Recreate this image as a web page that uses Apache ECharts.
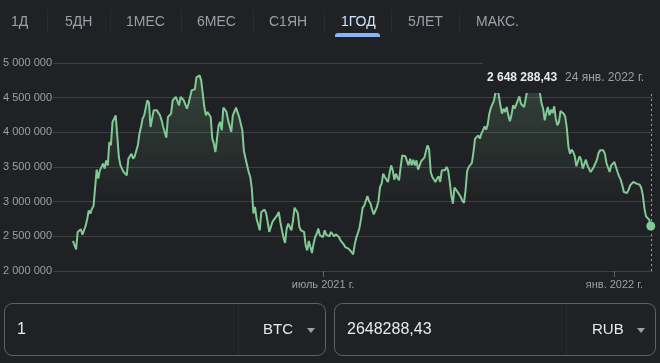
<!DOCTYPE html>
<html>
<head>
<meta charset="utf-8">
<script src="https://cdn.jsdelivr.net/npm/echarts@6/dist/echarts.min.js"></script>
<style>
  html, body { margin: 0; padding: 0; background: #202124; }
  #c { width: 660px; height: 363px; }
</style>
</head>
<body>
<div id="c"></div>
<script>
// ---------- DATA ----------
const tabLabels = ['1Д', '5ДН', '1МЕС', '6МЕС', 'С1ЯН', '1ГОД', '5ЛЕТ', 'МАКС.'];
const activeTab = '1ГОД';
const startDate = '2021-01-24';           // first daily value
const priceThousandRub = [                 // BTC/RUB daily, thousands of RUB
  2433,2433,2313,2563,2587,2601,2524,2550,2650,2750,
  2875,2827,2899,2938,2962,3462,3332,3452,3476,3548,
  3476,3596,3524,3861,3813,4149,4173,4245,3950,3644,
  3524,3476,3428,3404,3380,3620,3596,3692,3620,3654,
  3635,3813,3980,4077,4197,4245,4245,4462,4430,4077,
  4101,4317,4293,4317,4308,4245,4173,4077,4101,3923,
  4221,4221,4269,4462,4462,4510,4510,4390,4510,4486,
  4462,4486,4341,4413,4510,4606,4630,4620,4793,4810,
  4822,4750,4558,4365,4245,4293,4317,4221,3913,3837,
  3716,3692,4101,4149,
  4029,4356,4327,4293,4173,4200,4005,4245,4269,4356,
  4341,4221,4197,4029,3726,3716,3524,3428,3356,3188,
  2830,2923,2755,2779,2587,2851,2827,2885,2837,2707,
  2563,2587,2707,2740,2755,2803,2851,2707,2587,2481,
  2404,2611,2683,2707,2587,2731,2913,2894,2837,2635,
  2587,2587,2563,2370,2298,2433,2346,2260,2394,2490,
  2538,2611,2514,2538,2490,2587,2524,2538,2500,2563,
  2538,2500,2529,2538,2490,2442,2418,2385,2346,2370,
  2322,2322,2274,2240,2385,2481,2548,2625,2755,2913,
  2942,2962,3082,3010,2971,2885,2817,2817,2923,3010,
  3212,3260,3404,3356,3356,3284,3413,3524,3452,3317,
  3404,3346,3308,3500,3668,3644,3654,3654,3524,3620,
  3524,3606,3524,3596,3462,3524,3587,3615,3635,3731,
  3813,3750,3428,3356,3365,3284,3332,3365,
  3284,3452,3476,3452,3500,3452,3284,3091,2971,3202,
  3221,3139,3163,3067,3010,2981,3163,3442,3500,3510,
  3558,3716,3909,3885,3957,3909,3981,4029,4087,4038,
  4115,4269,4356,4356,4462,4582,4630,4534,4390,4269,
  4341,4293,4365,4245,4159,4245,4390,4341,4317,4462,
  4519,4413,4404,4365,4486,4606,4700,4750,4680,4780,
  4860,4800,4720,4558,4423,4341,4173,4284,4365,4245,
  4327,4279,4375,4197,4101,4149,4308,4317,4269,4221,
  4053,3788,3692,3750,3716,3654,3510,3490,3654,3606,
  3476,3462,3606,3524,3548,3428,3462,3500,3524,3606,
  3702,3740,3740,3740,3692,3558,3572,3428,3524,3500,
  3572,3500,3428,3365,3317,3236,3139,3139,3125,3173,
  3236,3260,3284,3284,3260,3284,3245,3197,3091,2899,
  2788,2779,2740,2648.28843
];
const yTickValues = [2000000, 2500000, 3000000, 3500000, 4000000, 4500000, 5000000];
const xTickDates = ['2021-07-01', '2022-01-01'];
const xTickLabels = ['июль 2021 г.', 'янв. 2022 г.'];
const monthsShort = ['янв.', 'февр.', 'мар.', 'апр.', 'мая', 'июн.', 'июл.', 'авг.', 'сент.', 'окт.', 'нояб.', 'дек.'];
const fromCurrency = 'BTC';
const toCurrency = 'RUB';
const fromAmount = '1';

// ---------- BUILD ----------
const DAY = 86400000;
const ts = s => { const p = s.split('-').map(Number); return Date.UTC(p[0], p[1] - 1, p[2]); };
const t0 = ts(startDate);
const seriesData = priceThousandRub.map((v, i) => [t0 + i * DAY, v * 1000]);
const last = seriesData[seriesData.length - 1];
const lastDate = new Date(last[0]);
const spaced = n => String(n).replace(/\B(?=(\d{3})+(?!\d))/g, ' ');
const intPart = Math.floor(last[1]);
const decPart = String(Math.round((last[1] - intPart) * 100)).padStart(2, '0');
const lastPriceLabel = spaced(intPart) + ',' + decPart;
const lastPriceInput = intPart + ',' + decPart;
const lastDateLabel = lastDate.getUTCDate() + ' ' + monthsShort[lastDate.getUTCMonth()] + ' ' + lastDate.getUTCFullYear() + ' г.';
const xTickTs = xTickDates.map(ts);

const FONT = "'Liberation Sans', Arial, sans-serif";
const BG = '#202124';
const GREEN = '#81c995';

// tabs layout
const tabX = [11, 65, 126, 197, 269, 341, 408, 476];
const tabSepX = [47, 110, 181, 253, 324, 391, 459];
const graphics = [];
tabLabels.forEach((t, i) => {
  const active = t === activeTab;
  graphics.push({ type: 'text', z: 100, style: { text: t, x: tabX[i], y: 22, font: '14px ' + FONT,
    fill: active ? '#d2e3fc' : '#9aa0a6', textVerticalAlign: 'middle', verticalAlign: 'middle' } });
});
tabSepX.forEach(x => graphics.push({ type: 'line', z: 100, shape: { x1: x + 0.5, y1: 10, x2: x + 0.5, y2: 33 }, style: { stroke: '#2a2b2e', lineWidth: 1 } }));
graphics.push({ type: 'rect', z: 100, shape: { x: 335, y: 33, width: 45, height: 4, r: [3, 3, 0, 0] }, style: { fill: '#8ab4f8' } });

// overlay label (hover readout)
graphics.push({ type: 'rect', z: 100, shape: { x: 483, y: 52, width: 171, height: 41 }, style: { fill: BG } });
graphics.push({ type: 'text', z: 101, style: { text: lastPriceLabel, x: 487, y: 78, font: 'bold 12px ' + FONT, fill: '#e8eaed', textVerticalAlign: 'middle', verticalAlign: 'middle' } });
graphics.push({ type: 'text', z: 101, style: { text: lastDateLabel, x: 565, y: 78, font: '12px ' + FONT, fill: '#9aa0a6', textVerticalAlign: 'middle', verticalAlign: 'middle' } });

// converter boxes
function box(x0, x1, sepX, val, cur, curX) {
  graphics.push({ type: 'rect', z: 100, shape: { x: x0 + 0.5, y: 303.5, width: x1 - x0, height: 52, r: 8 }, style: { fill: 'none', stroke: '#5f6368', lineWidth: 1 } });
  graphics.push({ type: 'line', z: 100, shape: { x1: sepX + 0.5, y1: 304, x2: sepX + 0.5, y2: 355 }, style: { stroke: '#2a2b2e', lineWidth: 1 } });
  graphics.push({ type: 'text', z: 100, style: { text: val, x: x0 + 13, y: 330, font: '16px ' + FONT, fill: '#e8eaed', textVerticalAlign: 'middle', verticalAlign: 'middle' } });
  graphics.push({ type: 'text', z: 100, style: { text: cur, x: curX, y: 330, font: '15px ' + FONT, fill: '#e8eaed', textVerticalAlign: 'middle', verticalAlign: 'middle' } });
  const tx = x1 - 14;
  graphics.push({ type: 'polygon', z: 100, shape: { points: [[tx - 4, 328], [tx + 4, 328], [tx, 333]] }, style: { fill: '#9aa0a6' } });
}
box(4, 325, 238, fromAmount, fromCurrency, 263);
box(334, 655, 566, lastPriceInput, toCurrency, 592);

const chart = echarts.init(document.getElementById('c'), null, { renderer: 'canvas' });
chart.setOption({
  backgroundColor: BG,
  animation: false,
  grid: { left: 53, right: 7, top: 63, bottom: 92, outerBoundsMode: 'none' },
  xAxis: {
    type: 'value',
    min: t0 - 12.6 * DAY,
    max: t0 + 366.4 * DAY,
    axisLine: { show: false },
    splitLine: { show: false },
    axisTick: { show: true, customValues: xTickTs, length: 6, lineStyle: { color: '#5f6368' } },
    axisLabel: {
      customValues: xTickTs,
      color: '#9aa0a6', fontSize: 11, fontFamily: FONT, margin: 8,
      formatter: v => { const i = xTickTs.indexOf(+v); return i >= 0 ? xTickLabels[i] : ''; }
    }
  },
  yAxis: {
    type: 'value',
    min: yTickValues[0],
    max: yTickValues[yTickValues.length - 1],
    interval: yTickValues[1] - yTickValues[0],
    axisLine: { show: false },
    axisTick: { show: false },
    axisLabel: { color: '#9aa0a6', fontSize: 11, fontFamily: FONT, margin: 1, formatter: v => spaced(v) },
    splitLine: { lineStyle: { color: '#3c4043', width: 1 } }
  },
  series: [{
    type: 'line',
    data: seriesData,
    symbol: 'none',
    showSymbol: false,
    lineStyle: { color: GREEN, width: 2 },
    areaStyle: {
      color: { type: 'linear', x: 0, y: 70, x2: 0, y2: 200, global: true,
        colorStops: [{ offset: 0, color: 'rgba(129,201,149,0.30)' }, { offset: 1, color: 'rgba(129,201,149,0)' }] }
    },
    markLine: {
      silent: true, symbol: 'none', label: { show: false },
      lineStyle: { type: [2, 3], color: '#9aa0a6', width: 1 },
      data: [{ xAxis: last[0] }]
    },
    markPoint: {
      symbol: 'circle', symbolSize: 9, label: { show: false },
      itemStyle: { color: GREEN },
      data: [{ coord: [last[0], last[1]] }]
    }
  }],
  graphic: { elements: graphics }
});
</script>
</body>
</html>
